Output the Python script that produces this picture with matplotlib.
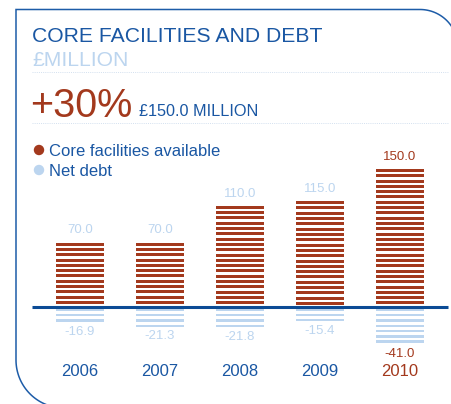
import numpy as np
import matplotlib
matplotlib.use("Agg")
import matplotlib.pyplot as plt
from matplotlib.patches import Circle

# ---- data ----
years = ["2006", "2007", "2008", "2009", "2010"]
core_facilities = [70.0, 70.0, 110.0, 115.0, 150.0]
net_debt = [-16.9, -21.3, -21.8, -15.4, -41.0]
title = "CORE FACILITIES AND DEBT"
unit_label = "£MILLION"
headline = "+30%"
headline_sub = "£150.0 MILLION"
legend_labels = ["Core facilities available", "Net debt"]

# ---- style ----
BROWN = "#a3391d"
LIGHT = "#bcd5ef"
BLUE = "#1a57a3"
LINE_BLUE = "#0b4b95"
FONT = ["Liberation Sans", "DejaVu Sans"]
plt.rcParams["font.family"] = FONT

W, H, DPI = 452, 404, 100
fig = plt.figure(figsize=(W / DPI, H / DPI), dpi=DPI)

# chart axes spanning the whole figure; x: one unit per year slot, y: £m
ax = fig.add_axes([0, 0, 1, 1])
px_per_slot = 80.0
first_center = 79.7
ax.set_xlim(-first_center / px_per_slot, (W - first_center) / px_per_slot)
px_per_unit = 0.92
base_from_bottom = H - 307
ax.set_ylim(-base_from_bottom / px_per_unit, (H - base_from_bottom) / px_per_unit)
ax.axis("off")

x = np.arange(len(years))
bar_w = 0.6
step = 5.3 / px_per_unit          # stripe period
thick_pos = 3.0 / px_per_unit     # brown stripe thickness
thick_neg = 2.4 / px_per_unit     # light stripe thickness
gap = 1.6 / px_per_unit

for xi, v in zip(x, core_facilities):
    tops = np.arange(v, gap, -step)
    tops = tops[tops - thick_pos >= gap - 0.01]
    ax.bar(np.full(len(tops), xi), thick_pos, bottom=tops - thick_pos,
           width=bar_w, color=BROWN, linewidth=0, zorder=2)

for xi, v in zip(x, net_debt):
    tops = -gap - step * np.arange(int(np.ceil((-v) / step)) + 1)
    tops = tops[tops > v + 0.3]
    bottoms = np.maximum(tops - thick_neg, v)
    ax.bar(np.full(len(tops), xi), tops - bottoms, bottom=bottoms,
           width=bar_w, color=LIGHT, linewidth=0, zorder=2)

# baseline
ax.hlines(0, -0.6, 4.604, color=LINE_BLUE, linewidth=2.2, zorder=3)

# value labels
last = len(years) - 1
for i, v in enumerate(core_facilities):
    ax.annotate(f"{v:.1f}", (x[i], v), xytext=(0, 4.5), textcoords="offset points",
                ha="center", va="bottom", fontsize=9.5,
                color=BROWN if i == last else LIGHT)
for i, v in enumerate(net_debt):
    ax.annotate(f"{v:.1f}", (x[i], v), xytext=(0, -2.5), textcoords="offset points",
                ha="center", va="top", fontsize=9.5,
                color=BROWN if i == last else LIGHT)

# year labels
for i, yr in enumerate(years):
    ax.text(x[i], -64 / px_per_unit, yr, ha="center", va="center", fontsize=12,
            color=BROWN if i == last else BLUE)

# ---- frame, header and legend in pixel coordinates ----
fr = fig.add_axes([0, 0, 1, 1], facecolor="none")
fr.set_xlim(0, W)
fr.set_ylim(H, 0)
fr.axis("off")

# outline: square top-left, rounded top-right and bottom-left
R1, c1 = 38.0, (420.0, 47.5)
R2, c2 = 48.0, (64.0, 360.0)
a1 = np.linspace(np.pi / 2, np.pi / 2 - 1.2, 40)
arc1 = np.column_stack([c1[0] + R1 * np.cos(a1), c1[1] - R1 * np.sin(a1)])
a2 = np.linspace(np.pi, np.pi + 1.3, 40)
arc2 = np.column_stack([c2[0] + R2 * np.cos(a2), c2[1] - R2 * np.sin(a2)])
pts = np.vstack([arc1[::-1], [[16, 9.5]], arc2])
fr.plot(pts[:, 0], pts[:, 1], color="#1d5ca8", linewidth=1.1,
        solid_capstyle="butt", solid_joinstyle="miter", clip_on=True)

# dotted separators
for yy in (72, 123):
    fr.hlines(yy, 32, 448, colors="#d3e0ef", linewidth=0.7, linestyles=(0, (1, 1.2)))

fr.text(32, 42, title, fontsize=15.2, color=BLUE, va="baseline", ha="left")
fr.text(32, 66, unit_label, fontsize=15.2, color=LIGHT, va="baseline", ha="left")
fr.text(30, 117, headline, fontsize=28.5, color=BROWN, va="baseline", ha="left")
fr.text(139, 116, headline_sub, fontsize=11.7, color=BLUE, va="baseline", ha="left")

for (yy, col, lab) in [(150, BROWN, legend_labels[0]), (170, LIGHT, legend_labels[1])]:
    fr.add_patch(Circle((39, yy), 5.2, color=col, linewidth=0))
    fr.text(49, yy + 5.5, lab, fontsize=12, color=BLUE, va="baseline", ha="left")

fig.savefig("out.png", dpi=DPI)
